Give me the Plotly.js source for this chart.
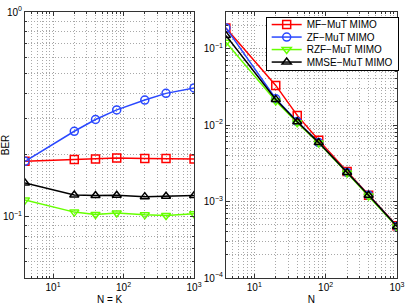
<!DOCTYPE html>
<html>
<head>
<meta charset="utf-8">
<script src="https://cdn.plot.ly/plotly-3.0.1.min.js"></script>
<style>html,body{margin:0;padding:0;background:#fff;}#chart{width:407px;height:305px;}</style>
</head>
<body>
<div id="chart"></div>
<script>
// Left panel: N = K
const nk = [4, 20, 40, 80, 200, 400, 1000];
const leftMF   = [0.186, 0.190, 0.191, 0.193, 0.192, 0.192, 0.191];
const leftZF   = [0.186, 0.261, 0.298, 0.332, 0.371, 0.400, 0.425];
const leftRZF  = [0.1205, 0.105, 0.1022, 0.104, 0.1018, 0.101, 0.103];
const leftMMSE = [0.1457, 0.1274, 0.1265, 0.127, 0.125, 0.1255, 0.1265];

// Right panel: N (K fixed)
const n = [4, 20, 40, 80, 200, 400, 1000];
const rightMF   = [0.186, 0.0329, 0.01336, 0.0063, 0.00246, 0.00121, 0.000482];
const rightZF   = [0.186, 0.0220, 0.01110, 0.00590, 0.00240, 0.00121, 0.000472];
const rightRZF  = [0.121, 0.0206, 0.0107, 0.0058, 0.00236, 0.00118, 0.000465];
const rightMMSE = [0.148, 0.0216, 0.01104, 0.00589, 0.00239, 0.00121, 0.000472];

const seriesNames = ['MF\u2212MuT MIMO', 'ZF\u2212MuT MIMO', 'RZF\u2212MuT MIMO', 'MMSE\u2212MuT MIMO'];
const colors = ['#ff0000', '#2a48ff', '#66ff00', '#000000'];
const symbols = ['square-open', 'circle-open', 'triangle-down-open', 'triangle-up-open'];

const xTickVals = [10, 100, 1000];
const xTickText = ['10<sup>1</sup>', '10<sup>2</sup>', '10<sup>3</sup>'];
const yLeftTickVals = [0.1, 1];
const yLeftTickText = ['10<sup>\u22121</sup>', '10<sup>0</sup>'];
const yRightTickVals = [0.0001, 0.001, 0.01, 0.1];
const yRightTickText = ['10<sup>\u22124</sup>', '10<sup>\u22123</sup>', '10<sup>\u22122</sup>', '10<sup>\u22121</sup>'];

const leftData = [leftMF, leftZF, leftRZF, leftMMSE];
const rightData = [rightMF, rightZF, rightRZF, rightMMSE];

const traces = [];
leftData.forEach((y, i) => {
  traces.push({x: nk, y: y, xaxis: 'x', yaxis: 'y', type: 'scatter', mode: 'lines+markers',
    name: seriesNames[i], showlegend: false,
    line: {color: colors[i], width: 1.5},
    marker: {symbol: symbols[i], size: 8, color: colors[i], line: {width: 1.5, color: colors[i]}}});
});
rightData.forEach((y, i) => {
  traces.push({x: n, y: y, xaxis: 'x2', yaxis: 'y2', type: 'scatter', mode: 'lines+markers',
    name: seriesNames[i], showlegend: true,
    line: {color: colors[i], width: 1.5},
    marker: {symbol: symbols[i], size: 8, color: colors[i], line: {width: 1.5, color: colors[i]}}});
});

const tickFont = {family: 'Liberation Sans, Arial, sans-serif', size: 10, color: '#000'};
const gridCommon = {
  showgrid: true, gridcolor: '#a0a0a0', griddash: '1px,2px', gridwidth: 1,
  showline: true, linecolor: '#333', linewidth: 1, mirror: 'ticks',
  ticks: 'inside', ticklen: 4, tickcolor: '#333', tickfont: tickFont,
  zeroline: false, type: 'log', tickmode: 'array',
  minor: {showgrid: true, gridcolor: '#a8a8a8', griddash: '1px,2px', gridwidth: 1, dtick: 'D1', ticks: 'inside', ticklen: 2, tickcolor: '#333'}
};

const layout = {
  width: 407, height: 305,
  margin: {l: 25, r: 8, t: 12, b: 27},
  paper_bgcolor: '#fff', plot_bgcolor: '#fff',
  font: {family: 'Liberation Sans, Arial, sans-serif', size: 10, color: '#000'},
  xaxis: Object.assign({}, gridCommon, {domain: [0, 0.4545], range: [Math.log10(4), 3],
    tickvals: xTickVals, ticktext: xTickText, anchor: 'y',
    title: {text: 'N = K', font: {size: 10}, standoff: 3}}),
  yaxis: Object.assign({}, gridCommon, {range: [Math.log10(0.05), 0], anchor: 'x',
    tickvals: yLeftTickVals, ticktext: yLeftTickText,
    title: {text: 'BER', font: {size: 10}, standoff: 2}}),
  xaxis2: Object.assign({}, gridCommon, {domain: [0.540, 1], range: [Math.log10(4), 3],
    tickvals: xTickVals, ticktext: xTickText, anchor: 'y2',
    title: {text: 'N', font: {size: 10}, standoff: 3}}),
  yaxis2: Object.assign({}, gridCommon, {range: [-4, Math.log10(0.3)], anchor: 'x2',
    tickvals: yRightTickVals, ticktext: yRightTickText}),
  legend: {x: 0.647, y: 0.981, xanchor: 'left', yanchor: 'top',
    bgcolor: '#fff', bordercolor: '#000', borderwidth: 1,
    font: {size: 10, family: 'Liberation Sans, Arial, sans-serif'}, tracegroupgap: 0},
  showlegend: true
};

Plotly.newPlot('chart', traces, layout, {staticPlot: true, displayModeBar: false}).then(gd => {
  // compact the legend rows to match the reference's tight spacing
  const leg = gd.querySelector('g.legend');
  if (!leg) return;
  const items = leg.querySelectorAll('g.traces');
  const gap = 12.5;
  items.forEach((g, i) => {
    const m = /translate\(([-\d.]+)[ ,]+([-\d.]+)\)/.exec(g.getAttribute('transform') || '');
    const x = m ? m[1] : 1;
    g.setAttribute('transform', 'translate(' + x + ',' + (7.5 + i * gap) + ')');
  });
  const bg = leg.querySelector('rect.bg');
  if (bg) bg.setAttribute('height', items.length * gap + 3);
  const sb = leg.querySelector('g.scrollbox');
  if (sb) sb.removeAttribute('clip-path');
});
</script>
</body>
</html>
